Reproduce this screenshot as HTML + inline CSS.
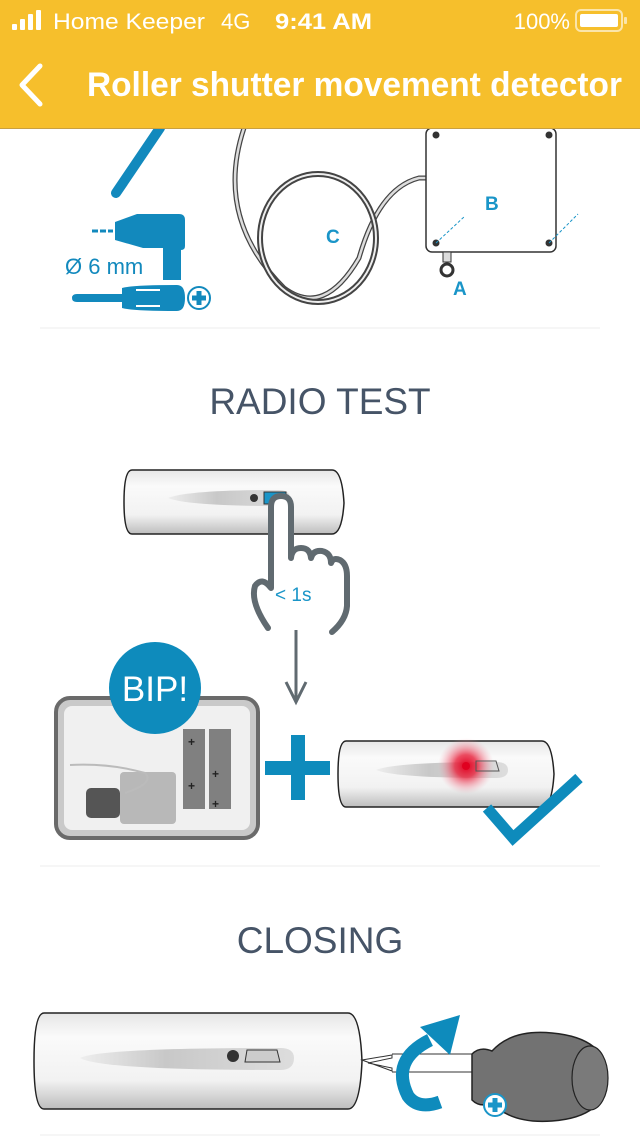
<!DOCTYPE html>
<html><head><meta charset="utf-8">
<style>
html,body{margin:0;padding:0;background:#fff;width:640px;height:1136px;overflow:hidden}
svg{display:block}
text{font-family:"Liberation Sans",sans-serif}
</style></head><body>
<svg width="640" height="1136" viewBox="0 0 640 1136" xmlns="http://www.w3.org/2000/svg">
<defs>
<linearGradient id="cyl" x1="0" y1="0" x2="0" y2="1">
<stop offset="0" stop-color="#e6e6e6"/><stop offset="0.25" stop-color="#fafafa"/><stop offset="0.7" stop-color="#f2f2f2"/><stop offset="1" stop-color="#bdbdbd"/></linearGradient>
<linearGradient id="slot" x1="0" y1="0" x2="1" y2="0">
<stop offset="0" stop-color="#eee"/><stop offset="0.4" stop-color="#c8c8c8"/><stop offset="1" stop-color="#ddd"/></linearGradient>
<radialGradient id="glow"><stop offset="0" stop-color="#e00020"/><stop offset="0.4" stop-color="#e8203a" stop-opacity="0.8"/><stop offset="1" stop-color="#f4a0b0" stop-opacity="0"/></radialGradient>
</defs>

<!-- top illustration -->
<g>
<line x1="160" y1="128" x2="116" y2="193" stroke="#1289bd" stroke-width="10" stroke-linecap="round"/>
<path d="M92 231 h6 M100 231 h6 M108 231 h5" stroke="#1289bd" stroke-width="3"/>
<path d="M115 222 l22 -8 h42 q6 0 6 6 v26 q0 4 -4 4 v30 h-18 v-32 h-20 l-28 -8 z" fill="#1289bd"/>
<text x="65" y="274" font-size="22" fill="#1289bd">Ø 6 mm</text>
<path d="M72 298 q0 -4 5 -4 h45 v-6 q10 -3 55 -3 q8 0 8 13 q0 13 -8 13 q-45 0 -55 -3 v-6 h-45 q-5 0 -5 -4z" fill="#1289bd"/>
<path d="M136 290 h24 M136 306 h24" stroke="#fff" stroke-width="2"/>
<circle cx="199" cy="298" r="11" fill="none" stroke="#1289bd" stroke-width="2"/>
<path d="M199 291 v14 M192 298 h14" stroke="#1289bd" stroke-width="5"/>

<path d="M244 128 q-30 90 40 160 q40 30 75 -30 q20 -70 60 -80 h16" fill="none" stroke="#444" stroke-width="5"/>
<path d="M244 128 q-30 90 40 160 q40 30 75 -30 q20 -70 60 -80 h16" fill="none" stroke="#ddd" stroke-width="2.5"/>
<ellipse cx="318" cy="238" rx="58" ry="64" fill="none" stroke="#444" stroke-width="6"/>
<ellipse cx="318" cy="238" rx="58" ry="64" fill="none" stroke="#eee" stroke-width="2"/>
<text x="326" y="243" font-size="19" font-weight="bold" fill="#1a95c8">C</text>
<rect x="426" y="128" width="130" height="124" rx="6" fill="#fff" stroke="#333" stroke-width="1.5"/>
<circle cx="436" cy="135" r="3.5" fill="#333"/><circle cx="549" cy="135" r="3.5" fill="#333"/>
<circle cx="436" cy="243" r="3.5" fill="#333"/><circle cx="549" cy="243" r="3.5" fill="#333"/>
<path d="M436 243 L465 216 M549 243 L578 214" stroke="#1a95c8" stroke-width="1" stroke-dasharray="3 2"/>
<text x="485" y="210" font-size="19" font-weight="bold" fill="#1a95c8">B</text>
<rect x="443" y="252" width="8" height="10" fill="#ddd" stroke="#333"/>
<circle cx="447" cy="270" r="6" fill="none" stroke="#333" stroke-width="3"/>
<text x="453" y="295" font-size="19" font-weight="bold" fill="#1a95c8">A</text>
</g>

<line x1="40" y1="328" x2="600" y2="328" stroke="#ececec" stroke-width="1"/>
<text x="320" y="414" font-size="37" fill="#465467" text-anchor="middle">RADIO TEST</text>

<!-- detector 1 -->
<path d="M132 470 h200 q10 0 12 33 q-2 31 -12 31 h-200 q-8 0 -8 -32 q0 -32 8 -32z" fill="url(#cyl)" stroke="#222" stroke-width="1.5"/>
<path d="M168 498 q20 -8 110 -8 q12 0 12 8 q0 8 -12 8 q-90 0 -110 -8z" fill="url(#slot)"/>
<circle cx="254" cy="498" r="4" fill="#333"/>
<rect x="264" y="492" width="22" height="12" fill="#1a95c8" stroke="#333"/>
<!-- hand -->
<path d="M268 628 Q250 602 255 586 Q262 576 271 588 L271 507 Q271 496 281 496 Q291 496 291 507 L291 558 Q292 548 301 548 Q310 548 311 558 Q313 550 322 551 Q331 553 331 563 Q333 557 340 560 Q347 564 347 576 L347 606 Q346 620 332 632" fill="#fff" stroke="#606a70" stroke-width="6" stroke-linejoin="round" stroke-linecap="round"/>
<text x="275" y="601" font-size="19" fill="#1a95c8">&lt; 1s</text>
<!-- arrow -->
<line x1="296" y1="630" x2="296" y2="702" stroke="#606a70" stroke-width="3"/>
<path d="M286 682 l10 20 l10 -20" fill="none" stroke="#606a70" stroke-width="3"/>

<!-- base unit -->
<rect x="56" y="698" width="202" height="140" rx="14" fill="#c9c9c9" stroke="#6a6a6a" stroke-width="4"/>
<rect x="64" y="706" width="186" height="124" rx="8" fill="#f0f0f0"/>
<rect x="183" y="729" width="22" height="80" fill="#808080"/>
<rect x="209" y="729" width="22" height="80" fill="#808080"/>
<text x="188" y="746" font-size="12" font-weight="bold" fill="#222">+</text>
<text x="212" y="778" font-size="12" font-weight="bold" fill="#222">+</text>
<text x="188" y="790" font-size="12" font-weight="bold" fill="#222">+</text>
<text x="212" y="808" font-size="12" font-weight="bold" fill="#222">+</text>
<rect x="86" y="788" width="34" height="30" rx="5" fill="#555"/>
<rect x="120" y="772" width="56" height="52" rx="4" fill="#b8b8b8"/>
<path d="M70 765 q40 -2 75 8 q10 10 -20 20" fill="none" stroke="#bbb" stroke-width="2"/>
<circle cx="155" cy="688" r="46" fill="#0e8bbc"/>
<text x="155" y="701" font-size="35" fill="#fff" text-anchor="middle">BIP!</text>

<!-- plus -->
<rect x="265" y="761" width="65" height="14" fill="#0e8bbc"/>
<rect x="291" y="735" width="14" height="65" fill="#0e8bbc"/>

<!-- detector 2 -->
<path d="M346 741 h196 q10 0 12 33 q-2 33 -12 33 h-196 q-8 0 -8 -33 q0 -33 8 -33z" fill="url(#cyl)" stroke="#222" stroke-width="1.5"/>
<path d="M376 770 q20 -8 120 -8 q12 0 12 8 q0 8 -12 8 q-100 0 -120 -8z" fill="url(#slot)"/>
<circle cx="466" cy="766" r="28" fill="url(#glow)"/>
<circle cx="466" cy="766" r="4" fill="#e00020"/>
<path d="M476 761 h20 l3 10 h-23z" fill="none" stroke="#555"/>
<path d="M487 808 l26 30 l66 -60" fill="none" stroke="#0e8bbc" stroke-width="11"/>

<line x1="40" y1="866" x2="600" y2="866" stroke="#ececec" stroke-width="1"/>
<text x="320" y="953" font-size="37" fill="#465467" text-anchor="middle">CLOSING</text>

<!-- detector 3 -->
<path d="M44 1013 h304 q12 0 14 48 q-2 48 -14 48 h-304 q-10 0 -10 -48 q0 -48 10 -48z" fill="url(#cyl)" stroke="#222" stroke-width="1.5"/>
<path d="M80 1058 q20 -10 200 -10 q14 0 14 10 q0 12 -14 12 q-180 0 -200 -12z" fill="url(#slot)"/>
<circle cx="233" cy="1056" r="6" fill="#333"/>
<path d="M247 1050 h30 l3 12 h-35z" fill="#ccc" stroke="#333"/>
<path d="M362 1060 l30 -5 l0 3 l-24 5 l24 5 v3z" fill="#fff" stroke="#333"/>
<path d="M392 1054 h80 M392 1072 h80" stroke="#333"/>
<path d="M472 1054 q8 -8 20 -3 q20 -22 60 -18 q55 5 55 44 q0 40 -55 44 q-40 3 -60 -18 q-12 5 -20 -3 z" fill="#727272" stroke="#222" stroke-width="1.5"/>
<ellipse cx="590" cy="1078" rx="18" ry="32" fill="#7a7a7a" stroke="#222" stroke-width="1.2"/>
<path d="M430 1040 q-40 20 -22 56 q10 14 32 6" fill="none" stroke="#0e8bbc" stroke-width="13"/>
<path d="M420 1027 l40 -12 l-10 40z" fill="#0e8bbc"/>
<circle cx="495" cy="1105" r="11" fill="#fff" stroke="#1a95c8" stroke-width="2"/>
<path d="M495 1098 v14 M488 1105 h14" stroke="#1a95c8" stroke-width="5"/>

<line x1="40" y1="1135" x2="600" y2="1135" stroke="#ececec" stroke-width="1"/>

<!-- header -->
<rect x="0" y="0" width="640" height="128" fill="#f6bf2c"/>
<line x1="0" y1="128.5" x2="640" y2="128.5" stroke="#c9a040" stroke-width="1"/>
<rect x="12" y="24" width="5" height="6" rx="1" fill="#fff"/>
<rect x="20" y="19" width="5" height="11" rx="1" fill="#fff"/>
<rect x="28" y="14" width="5" height="16" rx="1" fill="#fff"/>
<rect x="36" y="10" width="5" height="20" rx="1" fill="#fff"/>
<text x="53" y="29" font-size="22" fill="#fff" textLength="152" lengthAdjust="spacingAndGlyphs">Home Keeper</text>
<text x="221" y="29" font-size="22" fill="#fff">4G</text>
<text x="275" y="29" font-size="22" font-weight="bold" fill="#fff" textLength="97" lengthAdjust="spacingAndGlyphs">9:41 AM</text>
<text x="570" y="29" font-size="22" fill="#fff" text-anchor="end">100%</text>
<rect x="576" y="10" width="46" height="21" rx="5" fill="none" stroke="#fff" stroke-opacity="0.6" stroke-width="2"/>
<rect x="580" y="14" width="38" height="13" rx="2" fill="#fff"/>
<rect x="624" y="17" width="3" height="7" rx="1" fill="#fff" fill-opacity="0.6"/>
<path d="M40 66 L22 85 L40 104" fill="none" stroke="#fff" stroke-width="5" stroke-linecap="round" stroke-linejoin="round"/>
<text x="87" y="96" font-size="34" font-weight="bold" fill="#fff" textLength="535" lengthAdjust="spacingAndGlyphs">Roller shutter movement detector</text>
</svg>
</body></html>
